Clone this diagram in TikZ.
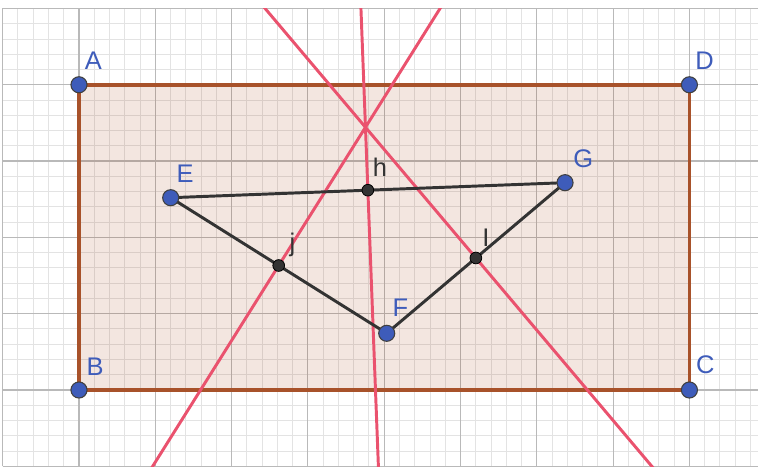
\documentclass[tikz,border=0pt]{standalone}
\usepackage{fontspec}
\setmainfont{Liberation Sans}
\usepackage{tikz}
\usetikzlibrary{calc}
\definecolor{ggbblue}{RGB}{62,92,186}
\definecolor{ggbred}{RGB}{234,82,110}
\definecolor{ggbbrown}{RGB}{168,82,42}
\definecolor{ggbfill}{RGB}{153,51,0}
\definecolor{ggbdark}{RGB}{51,51,51}

\begin{document}
\begin{tikzpicture}[font=\fontsize{9.5}{11}\selectfont,
      minorgrid/.style={draw=gray!22, line width=0.35pt},
      majorgrid/.style={draw=gray!55, line width=0.45pt},
      rect/.style={draw=ggbbrown, line width=1.3pt, fill=ggbfill, fill opacity=0.12, line join=round},
      bisector/.style={draw=ggbred, line width=1.1pt},
      side/.style={draw=ggbdark, line width=1.1pt},
      pt/.style={circle, fill=ggbblue, draw=black!75, line width=0.4pt, inner sep=0pt, minimum size=5.9mm/2.8},
      mid/.style={circle, fill=ggbdark, draw=black, line width=0.3pt, inner sep=0pt, minimum size=4.3mm/2.8},
      lbl/.style={text=ggbblue, inner sep=0pt},
      mlbl/.style={text=ggbdark, inner sep=0pt}]
      \useasboundingbox (-1.035,-1.035) rectangle (8.899,5.111);
      % background grid
      \begin{scope}
        \clip (-1,-1) rectangle (8.899,5);
        \draw[minorgrid] (-1,-1) grid[step=0.2] (8.9,5);
        \draw[majorgrid] (-1,-1) grid[step=1] (8.9,5);
      \end{scope}
      \draw[majorgrid] (-1,-1) -- (-1,5) -- (8.899,5);
      % rectangle ABCD
      \coordinate (A) at (0,4);   \coordinate (B) at (0,0);
      \coordinate (C) at (8,0);   \coordinate (D) at (8,4);
      \draw[rect] (A) -- (B) -- (C) -- (D) -- cycle;
      % triangle EFG and midpoints
      \coordinate (E) at (1.202,2.52);
      \coordinate (F) at (4.033,0.743);
      \coordinate (G) at (6.37,2.717);
      \coordinate (h) at ($(E)!0.5!(G)$);
      \coordinate (j) at ($(E)!0.5!(F)$);
      \coordinate (i) at ($(F)!0.5!(G)$);
      % perpendicular bisectors
      \coordinate (h1) at ($(h)!3!90:(G)$);  \coordinate (h2) at ($(h)!3!-90:(G)$);
      \coordinate (j1) at ($(j)!8!90:(F)$);  \coordinate (j2) at ($(j)!8!-90:(F)$);
      \coordinate (i1) at ($(i)!8!90:(G)$);  \coordinate (i2) at ($(i)!8!-90:(G)$);
      \begin{scope}
        \clip (-1,-1) rectangle (8.899,5);
        \draw[bisector] (h1) -- (h2);
        \draw[bisector] (j1) -- (j2);
        \draw[bisector] (i1) -- (i2);
      \end{scope}
      \draw[side] (E) -- (G);
      \draw[side] (E) -- (F) -- (G);
      % points
      \foreach \p in {A,B,C,D,E,F,G}
        \node[pt] (pt\p) at (\p) {};
      \foreach \p in {h,j,i}
        \node[mid] (pt\p) at (\p) {};
      % labels
      \node[lbl] (lblA) at ($(A)+(0.19,0.31)$) {A};
      \node[lbl] (lblB) at ($(B)+(0.21,0.31)$) {B};
      \node[lbl] (lblC) at ($(C)+(0.21,0.33)$) {C};
      \node[lbl] (lblD) at ($(D)+(0.2,0.32)$) {D};
      \node[lbl] (lblE) at ($(E)+(0.19,0.31)$) {E};
      \node[lbl] (lblF) at ($(F)+(0.18,0.33)$) {F};
      \node[lbl] (lblG) at ($(G)+(0.24,0.31)$) {G};
      \node[mlbl] (lblh) at ($(h)+(0.16,0.30)$) {h};
      \node[mlbl] (lblj) at ($(j)+(0.18,0.27)$) {j};
      \node[mlbl] (lbli) at ($(i)+(0.13,0.26)$) {I};
\end{tikzpicture}
\end{document}
